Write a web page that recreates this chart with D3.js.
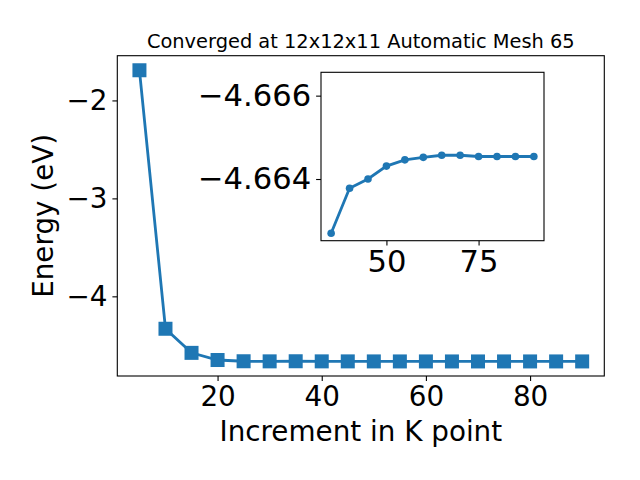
<!DOCTYPE html>
<html><head><meta charset="utf-8">
<script src="https://cdn.jsdelivr.net/npm/d3@7"></script>
<style>body{margin:0;background:#fff}svg{display:block}text{font-family:"DejaVu Sans",sans-serif;fill:#000}</style>
</head><body><svg id="c" width="640" height="480"></svg>
<script>
const mainX = [5,10,15,20,25,30,35,40,45,50,55,60,65,70,75,80,85,90];
const mainY = [-1.692,-4.331,-4.577,-4.650,-4.6627,-4.6637,-4.6627,-4.6638,-4.6640,-4.6643,-4.6645,-4.6645,-4.6646,-4.6646,-4.6645,-4.6645,-4.6645,-4.6645];
const insetX = [35,40,45,50,55,60,65,70,75,80,85,90];
const insetY = [-4.66270,-4.66378,-4.66400,-4.66431,-4.66446,-4.66452,-4.66457,-4.66457,-4.66454,-4.66454,-4.66454,-4.66454];
const mainXTicks = [20,40,60,80];
const mainYTicks = [-2,-3,-4];
const insetXTicks = [50,75];
const insetYTicks = [-4.666,-4.664];
const insetYLimits = [-4.66252,-4.66656];
const title = "Converged at 12x12x11 Automatic Mesh 65";
const xLabel = "Increment in K point";
const yLabel = "Energy (eV)";
const color = "#1f77b4";

const svg = d3.select("#c");
const fmt = v => String(v).replace("-", "\u2212");

function pad(ext){const r=ext[1]-ext[0];return [ext[0]-0.05*r, ext[1]+0.05*r];}

// main axes
const L=117.3,R=604.3,T=55.7,B=376;
const x = d3.scaleLinear().domain(pad(d3.extent(mainX))).range([L,R]);
const y = d3.scaleLinear().domain(pad(d3.extent(mainY))).range([B,T]);

const gx = svg.append("g").attr("transform",`translate(0,${B})`)
  .call(d3.axisBottom(x).tickValues(mainXTicks).tickSize(4.9).tickPadding(4.9).tickFormat(fmt));
const gy = svg.append("g").attr("transform",`translate(${L},0)`)
  .call(d3.axisLeft(y).tickValues(mainYTicks).tickSize(4.9).tickPadding(4.9).tickFormat(fmt));
[gx,gy].forEach(g=>{g.select(".domain").remove();g.selectAll("line").attr("stroke","#000").attr("stroke-width",1.1);
  g.selectAll("text").style("font-size","27.8px").attr("font-family","DejaVu Sans");});
svg.append("rect").attr("x",L).attr("y",T).attr("width",R-L).attr("height",B-T).attr("fill","none").attr("stroke","#000").attr("stroke-width",1.1);

const line = d3.line().x((d,i)=>x(mainX[i])).y(d=>y(d));
svg.append("path").datum(mainY).attr("d",line).attr("fill","none").attr("stroke",color).attr("stroke-width",2.8);
svg.append("g").selectAll("rect").data(mainY).join("rect")
  .attr("x",(d,i)=>x(mainX[i])-7).attr("y",d=>y(d)-7).attr("width",14).attr("height",14).attr("fill",color);

svg.append("text").attr("x",(L+R)/2).attr("y",47.5).attr("text-anchor","middle").style("font-size","19.4px").text(title);
svg.append("text").attr("x",(L+R)/2).attr("y",441).attr("text-anchor","middle").style("font-size","27.8px").text(xLabel);
svg.append("text").attr("transform",`translate(53,${(T+B)/2}) rotate(-90)`).attr("text-anchor","middle").style("font-size","27.8px").text(yLabel);

// inset axes
const iL=321,iR=544,iT=72.3,iB=240.7;
const ix = d3.scaleLinear().domain(pad(d3.extent(insetX))).range([iL,iR]);
const iy = d3.scaleLinear().domain(insetYLimits).range([iB,iT]);
svg.append("rect").attr("x",iL).attr("y",iT).attr("width",iR-iL).attr("height",iB-iT).attr("fill","#fff");
const igx = svg.append("g").attr("transform",`translate(0,${iB})`)
  .call(d3.axisBottom(ix).tickValues(insetXTicks).tickSize(4.9).tickPadding(4.9).tickFormat(fmt));
const igy = svg.append("g").attr("transform",`translate(${iL},0)`)
  .call(d3.axisLeft(iy).tickValues(insetYTicks).tickSize(4.9).tickPadding(4.9).tickFormat(d=>fmt(d3.format(".3f")(d))));
[igx,igy].forEach(g=>{g.select(".domain").remove();g.selectAll("line").attr("stroke","#000").attr("stroke-width",1.1);
  g.selectAll("text").style("font-size","30.6px").attr("font-family","DejaVu Sans");});
const iline = d3.line().x((d,i)=>ix(insetX[i])).y(d=>iy(d));
svg.append("path").datum(insetY).attr("d",iline).attr("fill","none").attr("stroke",color).attr("stroke-width",2.8);
svg.append("g").selectAll("circle").data(insetY).join("circle")
  .attr("cx",(d,i)=>ix(insetX[i])).attr("cy",d=>iy(d)).attr("r",3.8).attr("fill",color);
svg.append("rect").attr("x",iL).attr("y",iT).attr("width",iR-iL).attr("height",iB-iT).attr("fill","none").attr("stroke","#000").attr("stroke-width",1.1);
</script></body></html>
